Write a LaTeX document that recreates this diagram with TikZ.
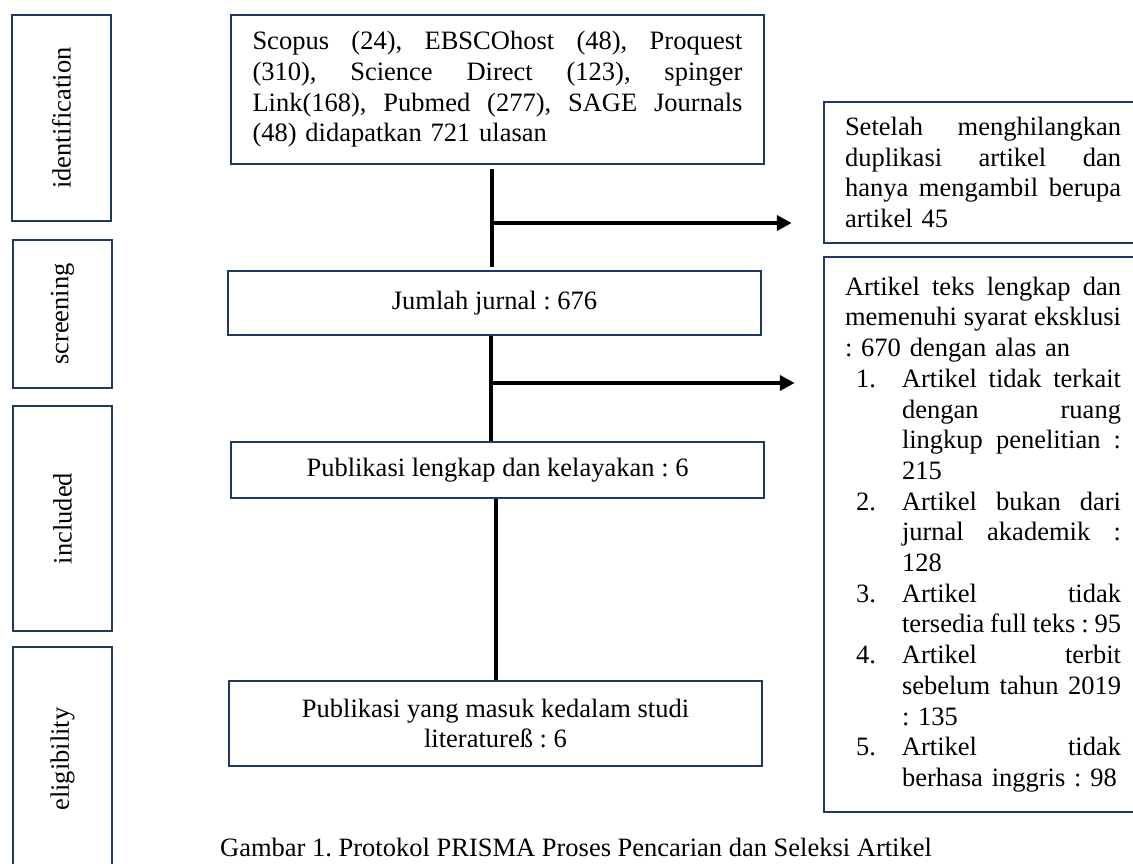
\documentclass[tikz,border=0pt]{standalone}
\usepackage{fontspec}
\setmainfont{Liberation Serif}
\usetikzlibrary{arrows.meta,calc}
\definecolor{navy}{RGB}{31,56,100}
\frenchspacing
\newcommand{\JL}[2]{\leavevmode{\spaceskip=0.25em plus 1fil minus 0.08em\relax\hbox to #1{#2}}}
\newcommand{\ITEM}[2]{\makebox[57pt][l]{\hspace{11pt}#1}#2}
\begin{document}
\begin{tikzpicture}[x=1pt,y=-1pt,
  txt/.style={font=\fontsize{26.5}{30.7}\selectfont\frenchspacing},
  lbox/.style={txt, draw=navy, line width=2.5pt, fill=white, inner sep=0pt, minimum width=99pt},
  mbox/.style={txt, draw=navy, line width=2.5pt, fill=white, inner sep=0pt},
  conn/.style={line width=4.3pt, draw=black},
  arr/.style={conn, -{Triangle[length=15pt,width=15pt]}}]
\useasboundingbox (0,0) rectangle (1133,864);
\clip (0,0) rectangle (1133,864);
\fill[white] (0,0) rectangle (1133,864);

% stage boxes
\node[lbox, minimum height=206pt] (id) at (61.5,118) {\rotatebox{90}{identification}};
\node[lbox, minimum height=148pt] (scr) at (62.5,314) {\rotatebox{90}{screening}};
\node[lbox, minimum height=225pt] (inc) at (62.5,518.5) {\rotatebox{90}{included}};
\node[lbox, minimum height=224pt] (eli) at (62.5,759) {\rotatebox{90}{eligibility}};

% main flow boxes
\node[mbox, minimum width=533pt, minimum height=149pt, text width=490pt, align=left] (b1) at (497.5,89.5)
 {\JL{490pt}{Scopus (24), EBSCOhost (48), Proquest}\\
  \JL{490pt}{(310), Science Direct (123), spinger}\\
  \JL{490pt}{Link(168), Pubmed (277), SAGE Journals}\\
  \mbox{(48) didapatkan 721 ulasan}};
\node[mbox, minimum width=533pt, minimum height=64pt] (b2) at (494.5,303) {Jumlah jurnal : 676};
\node[mbox, minimum width=533pt, minimum height=56pt] (b3) at (497.5,470) {Publikasi lengkap dan kelayakan : 6};
\node[mbox, minimum width=533pt, minimum height=85pt, align=center] (b4) at (495.5,723.5)
 {Publikasi yang masuk kedalam studi\\literatureß : 6};

% exclusion boxes
\node[mbox, minimum width=318pt, minimum height=141pt, text width=276pt, align=left] (r1) at (983,172.5)
 {\JL{276pt}{Setelah menghilangkan}\\
  \JL{276pt}{duplikasi artikel dan}\\
  \JL{276pt}{hanya mengambil berupa}\\
  \mbox{artikel 45}};
\node[mbox, minimum width=318pt, minimum height=555pt, text width=276pt, align=left] (r2) at (983,534.5)
 {\JL{276pt}{Artikel teks lengkap dan}\\
  \JL{276pt}{memenuhi syarat eksklusi}\\
  \mbox{: 670 dengan alas an}\\
  \ITEM{1.}{\JL{219pt}{Artikel tidak terkait}}\\
  \ITEM{}{\JL{219pt}{dengan ruang}}\\
  \ITEM{}{\JL{219pt}{lingkup penelitian :}}\\
  \ITEM{}{\mbox{215}}\\
  \ITEM{2.}{\JL{219pt}{Artikel bukan dari}}\\
  \ITEM{}{\JL{219pt}{jurnal akademik :}}\\
  \ITEM{}{\mbox{128}}\\
  \ITEM{3.}{\JL{219pt}{Artikel tidak}}\\
  \ITEM{}{\JL{219pt}{tersedia full teks : 95}}\\
  \ITEM{4.}{\JL{219pt}{Artikel terbit}}\\
  \ITEM{}{\JL{219pt}{sebelum tahun 2019}}\\
  \ITEM{}{\mbox{: 135}}\\
  \ITEM{5.}{\JL{219pt}{Artikel tidak}}\\
  \ITEM{}{\mbox{berhasa inggris : 98}}};

% connectors
\coordinate (j1) at (492,223);
\coordinate (j2) at (491,383);
\coordinate (k3) at (496,590);
\draw[conn, shorten <=4pt, shorten >=3pt] (j1 |- b1.south) -- (j1 |- b2.north);
\draw[arr, shorten >=31pt] (j1) -- (j1 -| r1.west);
\draw[conn] (j2 |- b2.south) -- (j2 |- b3.north);
\draw[arr, shorten >=28pt] (j2) -- (j2 -| r2.west);
\draw[conn] (k3 |- b3.south) -- (k3 |- b4.north);

% caption
\node[txt, anchor=base west, inner sep=0pt] (cap) at (220,856)
 {Gambar 1. Protokol PRISMA Proses Pencarian dan Seleksi Artikel};
\end{tikzpicture}
\end{document}
